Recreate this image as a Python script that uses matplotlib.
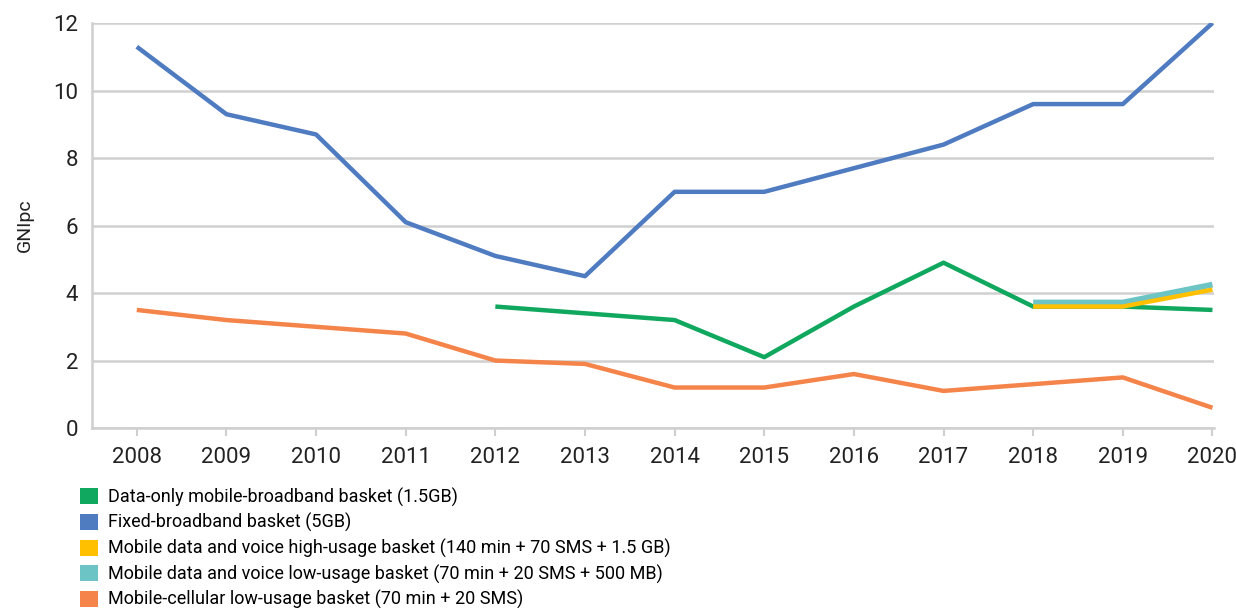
import matplotlib.pyplot as plt
from matplotlib.patches import Patch

plt.rcParams['font.family'] = ['Roboto', 'DejaVu Sans']

years = list(range(2008, 2021))
fixed_bb = [11.3, 9.3, 8.7, 6.1, 5.1, 4.5, 7.0, 7.0, 7.7, 8.4, 9.6, 9.6, 12.0]
cellular_low = [3.5, 3.2, 3.0, 2.8, 2.0, 1.9, 1.2, 1.2, 1.6, 1.1, 1.3, 1.5, 0.6]
data_years = list(range(2012, 2021))
data_only = [3.6, 3.4, 3.2, 2.1, 3.6, 4.9, 3.6, 3.6, 3.5]
voice_years = [2018, 2019, 2020]
voice_high = [3.6, 3.6, 4.1]
voice_low = [3.72, 3.72, 4.25]

labels = ['Data-only mobile-broadband basket (1.5GB)',
          'Fixed-broadband basket (5GB)',
          'Mobile data and voice high-usage basket (140 min + 70 SMS + 1.5 GB)',
          'Mobile data and voice low-usage basket (70 min + 20 SMS + 500 MB)',
          'Mobile-cellular low-usage basket (70 min + 20 SMS)']
colors = ['#10A85E', '#4F7BC0', '#FFC000', '#6DC4C4', '#F5844A']

fig = plt.figure(figsize=(12.36, 6.08), dpi=100)
ax = fig.add_axes([0.0744, 0.296, 0.908, 0.666])

lw = 3.2
ax.plot(data_years, data_only, color=colors[0], lw=lw, zorder=3, solid_capstyle='butt')
ax.plot(years, fixed_bb, color=colors[1], lw=lw, zorder=3, solid_capstyle='butt')
ax.plot(voice_years, voice_low, color=colors[3], lw=lw + 1, zorder=4, solid_capstyle='butt')
ax.plot(voice_years, voice_high, color=colors[2], lw=lw, zorder=5, solid_capstyle='butt')
ax.plot(years, cellular_low, color=colors[4], lw=lw, zorder=3, solid_capstyle='butt')

ax.set_xlim(2007.5, 2020.02)
ax.set_ylim(0, 12)
ax.set_yticks(range(0, 13, 2))
ax.set_xticks(years)
ax.grid(axis='y', color='#D0D0D0', lw=1.8)
ax.set_axisbelow(True)
for s in ['top', 'right']:
    ax.spines[s].set_visible(False)
for s in ['left', 'bottom']:
    ax.spines[s].set_color('#CFCFCF')
    ax.spines[s].set_linewidth(1.8)
ax.tick_params(axis='y', length=0, labelsize=16, pad=10, colors='#222222')
ax.tick_params(axis='x', length=6, width=1.5, color='#CFCFCF', labelsize=16, pad=8,
               labelcolor='#222222')
ax.set_ylabel('GNIpc', fontsize=14, labelpad=14, color='#222222')

handles = [Patch(facecolor=c, edgecolor='none') for c in colors]
fig.legend(handles, labels, loc='upper left', bbox_to_anchor=(0.065, 0.198),
           frameon=False, fontsize=13, handlelength=1.0, handleheight=1.0,
           handletextpad=0.55, labelspacing=0.36, borderpad=0, borderaxespad=0)

fig.savefig('out.png', dpi=100)
